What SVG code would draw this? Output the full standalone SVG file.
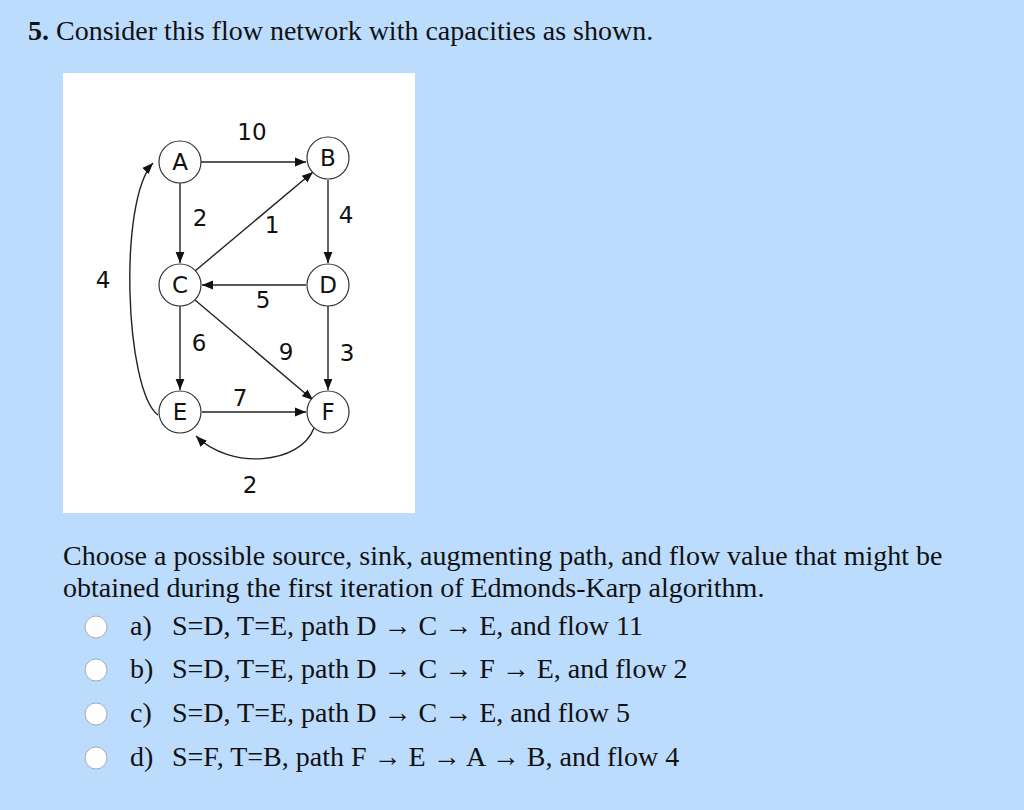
<svg xmlns="http://www.w3.org/2000/svg" width="1024" height="810" viewBox="0 0 1024 810">
<style>
.n circle{fill:#fff;stroke:#333;stroke-width:1.2}
.n text,.l{font-family:"DejaVu Sans",sans-serif;font-size:23px;fill:#111;text-anchor:middle}
.c path{fill:none;stroke:#222;stroke-width:1.4;marker-end:url(#ar)}
.t{font-family:"Liberation Serif",serif;font-size:28px;fill:#111}
.r{fill:#fff;stroke:#aaa;stroke-width:1}
</style>
<defs><marker id="ar" viewBox="0 0 10 10" refX="10" refY="5" markerWidth="11" markerHeight="11" markerUnits="userSpaceOnUse" orient="auto"><path d="M0,1L10,5L0,9z" fill="#111"/></marker></defs>
<rect width="1024" height="810" fill="#bcdcfd"/>
<text class="t" x="28" y="40"><tspan font-weight="bold">5.</tspan> Consider this flow network with capacities as shown.</text>
<rect x="63" y="73" width="352" height="440" fill="#fff"/>
<g class="c">
<path d="M200,162H306"/>
<path d="M180,183V263"/>
<path d="M328,180V263"/>
<path d="M195,271L313,172"/>
<path d="M306,285H202"/>
<path d="M195,300L313,400"/>
<path d="M180,306V390"/>
<path d="M328,306V390"/>
<path d="M202,412H306"/>
<path d="M158,415C125,390 118,200 153,163"/>
<path d="M314,428C300,465 230,470 196,436"/>
</g>
<g id="A" class="n"><circle cx="180" cy="162" r="21"/><text x="180" y="170">A</text></g>
<g id="B" class="n"><circle cx="328" cy="158" r="21"/><text x="328" y="166">B</text></g>
<g id="C" class="n"><circle cx="180" cy="285" r="21"/><text x="180" y="293">C</text></g>
<g id="D" class="n"><circle cx="328" cy="285" r="21"/><text x="328" y="293">D</text></g>
<g id="E" class="n"><circle cx="180" cy="412" r="21"/><text x="180" y="420">E</text></g>
<g id="F" class="n"><circle cx="328" cy="412" r="21"/><text x="328" y="420">F</text></g>
<g>
<text class="l" x="252" y="140">10</text>
<text class="l" x="200" y="226">2</text>
<text class="l" x="272" y="233">1</text>
<text class="l" x="346" y="223">4</text>
<text class="l" x="103" y="288">4</text>
<text class="l" x="263" y="308">5</text>
<text class="l" x="199" y="351">6</text>
<text class="l" x="286" y="360">9</text>
<text class="l" x="347" y="361">3</text>
<text class="l" x="240" y="406">7</text>
<text class="l" x="250" y="493">2</text>
</g>
<text class="t" x="63" y="565">Choose a possible source, sink, augmenting path, and flow value that might be</text>
<text class="t" x="63" y="597">obtained during the first iteration of Edmonds-Karp algorithm.</text>
<circle class="r" cx="96" cy="627" r="11"/><text class="t" x="130" y="635">a)</text><text class="t" x="172" y="635">S=D, T=E, path D → C → E, and flow 11</text>
<circle class="r" cx="96" cy="670" r="11"/><text class="t" x="130" y="678">b)</text><text class="t" x="172" y="678">S=D, T=E, path D → C → F → E, and flow 2</text>
<circle class="r" cx="96" cy="714" r="11"/><text class="t" x="130" y="722">c)</text><text class="t" x="172" y="722">S=D, T=E, path D → C → E, and flow 5</text>
<circle class="r" cx="96" cy="758" r="11"/><text class="t" x="130" y="766">d)</text><text class="t" x="172" y="766">S=F, T=B, path F → E → A → B, and flow 4</text>
</svg>
